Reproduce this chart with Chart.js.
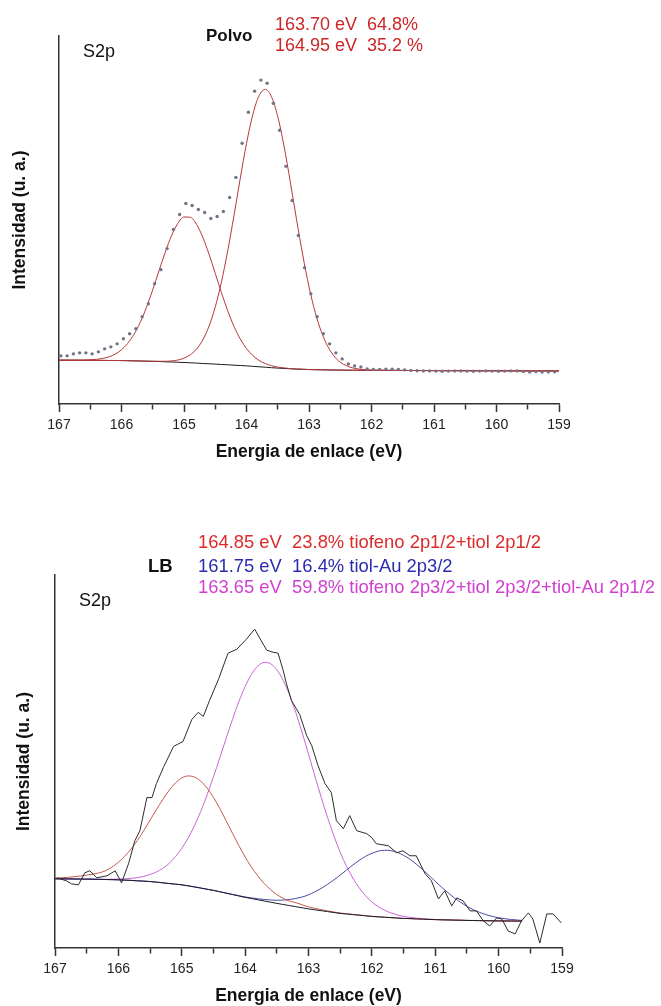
<!DOCTYPE html>
<html>
<head>
<meta charset="utf-8">
<script src="https://cdn.jsdelivr.net/npm/chart.js@4.4.1/dist/chart.umd.min.js"></script>
<style>
  body { margin: 0; background: #fff; }
  canvas { position: absolute; left: 0; }
  #polvoChart { top: 0; }
  #lbChart { top: 490px; }
</style>
</head>
<body>
<canvas id="polvoChart" width="661" height="480"></canvas>
<canvas id="lbChart" width="661" height="516"></canvas>
<script>
// S2p - muestra en polvo: puntos experimentales
const polvoEnergy = [
  166.97, 166.87, 166.77, 166.67, 166.57, 166.47, 166.37, 166.27, 166.17, 166.07,
  165.97, 165.87, 165.77, 165.67, 165.57, 165.47, 165.37, 165.27, 165.17, 165.07,
  164.97, 164.87, 164.77, 164.67, 164.57, 164.47, 164.37, 164.27, 164.17, 164.07,
  163.97, 163.87, 163.77, 163.67, 163.57, 163.47, 163.37, 163.27, 163.17, 163.07,
  162.97, 162.87, 162.77, 162.67, 162.57, 162.47, 162.37, 162.27, 162.17, 162.07,
  161.97, 161.87, 161.77, 161.67, 161.57, 161.47, 161.37, 161.27, 161.17, 161.07,
  160.97, 160.87, 160.77, 160.67, 160.57, 160.47, 160.37, 160.27, 160.17, 160.07,
  159.97, 159.87, 159.77, 159.67, 159.57, 159.47, 159.37, 159.27, 159.17, 159.07
];
const polvoCounts = [
  48, 48, 50, 51, 51, 50, 52, 55, 57, 60,
  65, 70, 75, 87, 100, 120, 134, 155, 174, 189,
  200, 198, 194, 191, 185, 187, 192, 206, 226, 260,
  291, 312, 323, 320, 300, 273, 237, 203, 168, 136,
  110, 87, 70, 60, 51, 45, 40, 38, 37, 35,
  34.5, 34.5, 34.8, 34.6, 34.5, 34, 33.5, 33.2, 33, 33,
  32.8, 32.6, 32.8, 33, 33, 32.8, 32.6, 32.8, 33, 32.8,
  32.6, 32.8, 33, 33, 32.5, 32, 32.3, 31.8, 32, 32.2
];

// ajuste: fondo y componentes 163.70 eV / 164.95 eV
const polvoFitEnergy = [
  167.0, 166.8, 166.6, 166.5, 166.4, 166.3, 166.2, 166.1, 166.0, 165.9,
  165.8, 165.7, 165.6, 165.5, 165.4, 165.3, 165.2, 165.1, 165.0, 164.9,
  164.8, 164.7, 164.6, 164.5, 164.4, 164.3, 164.2, 164.1, 164.0, 163.9,
  163.8, 163.7, 163.6, 163.5, 163.4, 163.3, 163.2, 163.1, 163.0, 162.9,
  162.8, 162.7, 162.6, 162.5, 162.4, 162.3, 162.2, 162.1, 162.0,
  161.5, 161.0, 160.5, 160.0, 159.5, 159.0
];
const polvoBackground = [
  43.7, 43.7, 43.6, 43.6, 43.5, 43.5, 43.4, 43.4, 43.3, 43.2,
  43.0, 42.9, 42.7, 42.6, 42.4, 42.1, 41.9, 41.6, 41.4, 41.1,
  40.8, 40.4, 40.1, 39.8, 39.4, 39.1, 38.7, 38.4, 38.0, 37.6,
  37.1, 36.7, 36.2, 35.8, 35.5, 35.1, 34.8, 34.6, 34.3, 34.2,
  34.1, 34.0, 33.9, 33.8, 33.75, 33.7, 33.65, 33.6, 33.6,
  33.45, 33.3, 33.2, 33.1, 33.05, 33.0
];
const polvoPeak1 = [
  43.7, 43.7, 43.6, 43.6, 43.5, 43.5, 43.4, 43.4, 43.3, 43.2,
  43.0, 42.9, 42.7, 42.6, 42.6, 42.6, 43.0, 43.8, 45.7, 49.0,
  54.8, 63.8, 77.6, 96.8, 122.0, 153.0, 188.1, 225.0, 259.8, 288.5,
  307.3, 313.7, 306.4, 286.7, 257.3, 221.7, 184.2, 148.5, 116.9, 91.2,
  71.6, 57.4, 47.9, 41.7, 38.1, 36.0, 34.8, 34.1, 33.8,
  33.45, 33.3, 33.2, 33.1, 33.05, 33.0
];
const polvoPeak2 = [
  43.7, 43.7, 43.8, 44.1, 44.5, 45.5, 47.0, 49.8, 54.1, 60.5,
  69.5, 81.5, 96.5, 114.0, 132.9, 151.4, 167.8, 180.0, 186.5, 186.2,
  179.2, 166.3, 149.4, 130.3, 110.8, 92.9, 77.3, 64.9, 55.3, 48.4,
  43.5, 40.3, 38.2, 36.8, 36.0, 35.3, 35.0, 34.7, 34.4, 34.25,
  34.1, 34.0, 33.9, 33.8, 33.75, 33.7, 33.65, 33.6, 33.6,
  33.45, 33.3, 33.2, 33.1, 33.05, 33.0
];

// S2p - película LB: espectro medido
const lbEnergy = [
  166.97, 166.82, 166.74, 166.63, 166.53, 166.45, 166.34, 166.18, 166.05, 165.95,
  165.84, 165.74, 165.66, 165.55, 165.47, 165.40, 165.29, 165.13, 164.98, 164.84,
  164.74, 164.66, 164.56, 164.42, 164.27, 164.13, 163.98, 163.85, 163.66, 163.56,
  163.48, 163.40, 163.35, 163.27, 163.14, 163.03, 162.95, 162.85, 162.74, 162.64,
  162.56, 162.45, 162.35, 162.24, 162.08, 162.00, 161.93, 161.74, 161.61, 161.51,
  161.40, 161.30, 161.16, 161.06, 160.95, 160.85, 160.74, 160.66, 160.56, 160.45,
  160.35, 160.24, 160.14, 160.03, 159.95, 159.85, 159.74, 159.64, 159.53, 159.46,
  159.35, 159.24, 159.14, 159.01
];
const lbCounts = [
  70, 67, 64, 63, 75, 77, 70, 72, 77, 65,
  84, 107, 117, 150, 150, 164, 180, 201, 206, 228,
  235, 231, 247, 268, 294, 298, 308, 318, 297, 295,
  294, 277, 264, 247, 233, 212, 202, 182, 164, 155,
  127, 119, 132, 117, 114, 110, 104, 102, 95, 97,
  92, 92, 74, 67, 49, 57, 42, 50, 47, 37,
  37, 27, 22, 30, 29, 17, 14, 27, 35, 29,
  5, 34, 34, 25
];

// ajuste LB: fondo y tres componentes
const lbFitEnergy = [
  167.0, 166.8, 166.6, 166.5, 166.4, 166.3, 166.2, 166.1, 166.0, 165.9,
  165.8, 165.7, 165.6, 165.5, 165.4, 165.3, 165.2, 165.1, 165.0, 164.9,
  164.8, 164.7, 164.6, 164.5, 164.4, 164.3, 164.2, 164.1, 164.0, 163.9,
  163.8, 163.7, 163.6, 163.5, 163.4, 163.3, 163.2, 163.1, 163.0, 162.9,
  162.8, 162.7, 162.6, 162.5, 162.4, 162.3, 162.2, 162.1, 162.0, 161.9,
  161.8, 161.7, 161.6, 161.5, 161.4, 161.3, 161.2, 161.1, 161.0, 160.9,
  160.8, 160.7, 160.6, 160.5, 160.4, 160.3, 160.2, 160.1, 160.0, 159.9,
  159.8, 159.7, 159.63
];
const lbBackground = [
  69.0, 68.9, 68.75, 68.7, 68.6, 68.45, 68.3, 68.15, 68.0, 67.7,
  67.4, 67.0, 66.7, 66.3, 65.7, 65.0, 64.3, 63.7, 63.0, 62.0,
  60.9, 59.8, 58.6, 57.5, 56.1, 54.7, 53.3, 51.9, 50.5, 49.3,
  48.1, 46.9, 45.7, 44.5, 43.4, 42.3, 41.2, 40.1, 39.0, 38.1,
  37.2, 36.3, 35.4, 34.5, 33.9, 33.3, 32.7, 32.1, 31.5, 31.1,
  30.7, 30.3, 29.9, 29.5, 29.3, 29.0, 28.8, 28.5, 28.3, 28.1,
  28.0, 27.8, 27.7, 27.5, 27.4, 27.3, 27.2, 27.1, 27.0, 26.95,
  26.9, 26.85, 26.8
];
// 164.85 eV
const lbPeakRed = [
  69.7, 70.4, 71.8, 72.7, 73.6, 75.0, 77.1, 80.8, 85.5, 91.5,
  98.8, 107.3, 117.1, 127.5, 138.0, 148.0, 157.1, 164.6, 169.6, 171.6,
  170.5, 166.4, 159.5, 150.3, 139.1, 127.0, 114.5, 102.3, 90.8, 80.7,
  71.9, 64.4, 58.3, 53.3, 49.6, 46.8, 45.2, 43.1, 41.0, 39.6,
  38.2, 37.0, 35.9, 34.9, 34.2, 33.5, 32.9, 32.2, 31.6, 31.1,
  30.7, 30.3, 29.9, 29.5, 29.3, 29.0, 28.8, 28.5, 28.3, 28.1,
  28.0, 27.8, 27.7, 27.5, 27.4, 27.3, 27.2, 27.1, 27.0, 26.95,
  26.9, 26.85, 26.8
];
// 161.75 eV
const lbPeakBlue = [
  69.0, 68.9, 68.75, 68.7, 68.6, 68.45, 68.3, 68.15, 68.0, 67.7,
  67.4, 67.0, 66.7, 66.3, 65.7, 65.0, 64.3, 63.7, 63.0, 62.0,
  60.9, 59.8, 58.6, 57.5, 56.1, 54.75, 53.45, 52.2, 50.9, 50.0,
  49.1, 48.4, 47.9, 47.6, 47.8, 48.4, 49.4, 50.9, 53.0, 56.0,
  59.4, 63.5, 67.9, 72.7, 77.8, 82.8, 87.4, 91.4, 94.4, 96.6,
  97.5, 97.1, 95.4, 92.4, 88.6, 83.7, 78.3, 72.4, 66.5, 60.6,
  55.2, 50.0, 45.6, 41.5, 38.2, 35.5, 33.3, 31.5, 30.1, 29.2,
  28.4, 27.9, 27.5
];
// 163.65 eV
const lbPeakMagenta = [
  69.0, 68.9, 68.8, 68.75, 68.65, 68.55, 68.5, 68.55, 68.8, 69.0,
  69.4, 70.1, 71.4, 73.3, 75.8, 79.4, 84.3, 91.0, 99.4, 109.6,
  121.9, 136.3, 152.7, 170.7, 189.6, 209.0, 227.9, 245.5, 260.7, 272.9,
  281.1, 284.8, 283.6, 277.5, 267.0, 252.5, 234.8, 214.7, 193.3, 171.6,
  150.4, 130.4, 111.9, 95.5, 81.5, 69.7, 60.0, 52.1, 45.9, 41.2,
  37.7, 35.0, 33.0, 31.5, 30.6, 29.8, 29.3, 28.8, 28.5, 28.2,
  28.05, 27.85, 27.75, 27.55, 27.45, 27.35, 27.25, 27.15, 27.05, 27.0,
  26.95, 26.9, 26.85
];

const FONT = "'Liberation Sans', Arial, sans-serif";

// rótulos dentro de cada gráfico
const polvoText = [
  { text: 'S2p', x: 83, y: 52, font: '18px ' + FONT, color: '#111' },
  { text: 'Polvo', x: 206, y: 36.5, font: 'bold 17px ' + FONT, color: '#111' },
  { text: '163.70 eV  64.8%', x: 275, y: 25, font: '18px ' + FONT, color: '#cc2626' },
  { text: '164.95 eV  35.2 %', x: 275, y: 46.5, font: '18px ' + FONT, color: '#cc2626' }
];
const lbText = [
  { text: 'S2p', x: 79, y: 111.5, font: '18px ' + FONT, color: '#111' },
  { text: 'LB', x: 148, y: 77, font: 'bold 18.5px ' + FONT, color: '#111' },
  { text: '164.85 eV  23.8% tiofeno 2p1/2+tiol 2p1/2', x: 198, y: 53.3, font: '18.4px ' + FONT, color: '#dd2a2a' },
  { text: '161.75 eV  16.4% tiol-Au 2p3/2', x: 198, y: 76.7, font: '18.4px ' + FONT, color: '#2b2bb0' },
  { text: '163.65 eV  59.8% tiofeno 2p3/2+tiol 2p3/2+tiol-Au 2p1/2', x: 198, y: 98.3, font: '18.4px ' + FONT, color: '#d23ed2' }
];

Chart.defaults.font.family = FONT;

const pts = (xs, ys) => xs.map((x, i) => ({ x: x, y: ys[i] }));

function textLabels(items) {
  return {
    id: 'textLabels',
    afterDraw(chart) {
      const ctx = chart.ctx;
      ctx.save();
      ctx.textBaseline = 'middle';
      ctx.textAlign = 'left';
      items.forEach(t => {
        ctx.font = t.font;
        ctx.fillStyle = t.color;
        ctx.fillText(t.text, t.x, t.y);
      });
      ctx.restore();
    }
  };
}

function energyAxis() {
  return {
    type: 'linear',
    reverse: true,
    min: 159,
    max: 167,
    ticks: {
      stepSize: 0.5,
      autoSkip: false,
      maxRotation: 0,
      padding: 5,
      color: '#222',
      font: { size: 14 },
      callback: v => Number.isInteger(v) ? String(v) : ''
    },
    grid: {
      drawOnChartArea: false,
      tickLength: 8,
      tickWidth: 1.5,
      tickColor: '#333',
      // medias unidades: marca corta
      tickBorderDash: c => (c.tick && !Number.isInteger(c.tick.value)) ? [5, 20] : []
    },
    border: { color: '#333', width: 1.5 },
    title: {
      display: true,
      text: 'Energia de enlace (eV)',
      color: '#111',
      font: { size: 17.5, weight: 'bold', lineHeight: 1 },
      padding: { top: 5, bottom: 0 }
    }
  };
}

function intensityAxis(max, pad) {
  return {
    type: 'linear',
    min: 0,
    max: max,
    ticks: { display: false },
    grid: { display: false, drawTicks: false },
    border: { color: '#333', width: 1.5 },
    title: {
      display: true,
      text: 'Intensidad (u. a.)',
      color: '#111',
      font: { size: 17.5, weight: 'bold', lineHeight: 1 },
      padding: pad
    }
  };
}

function fitLine(xs, ys, color) {
  return {
    data: pts(xs, ys),
    borderColor: color,
    borderWidth: 1,
    pointRadius: 0,
    cubicInterpolationMode: 'monotone'
  };
}

const baseOptions = (padding, yAxis) => ({
  responsive: false,
  animation: false,
  devicePixelRatio: 1,
  layout: { padding: padding },
  plugins: { legend: { display: false }, tooltip: { enabled: false } },
  scales: { x: energyAxis(), y: yAxis }
});

// Polvo
new Chart(document.getElementById('polvoChart'), {
  type: 'line',
  data: {
    datasets: [
      {
        data: pts(polvoEnergy, polvoCounts),
        showLine: false,
        pointRadius: 1.7,
        pointBorderWidth: 0,
        pointBackgroundColor: '#737386'
      },
      fitLine(polvoFitEnergy, polvoPeak1, '#b83636'),
      fitLine(polvoFitEnergy, polvoPeak2, '#b83636'),
      fitLine(polvoFitEnergy, polvoBackground, '#1a1a1a')
    ]
  },
  options: baseOptions({ left: 0, top: 36, right: 102, bottom: 18.7 },
    intensityAxis(367, { top: 11.25, bottom: 30.25 })),
  plugins: [textLabels(polvoText)]
});

// LB
new Chart(document.getElementById('lbChart'), {
  type: 'line',
  data: {
    datasets: [
      {
        data: pts(lbEnergy, lbCounts),
        borderColor: '#2b2b2b',
        borderWidth: 1,
        pointRadius: 0,
        tension: 0
      },
      fitLine(lbFitEnergy, lbBackground, '#1a1a2a'),
      fitLine(lbFitEnergy, lbPeakRed, '#c05a4a'),
      fitLine(lbFitEnergy, lbPeakBlue, '#4a4aa6'),
      fitLine(lbFitEnergy, lbPeakMagenta, '#cc62d8')
    ]
  },
  options: baseOptions({ left: 0, top: 85, right: 99, bottom: 0.7 },
    intensityAxis(372, { top: 15.75, bottom: 21.75 })),
  plugins: [textLabels(lbText)]
});
</script>
</body>
</html>
